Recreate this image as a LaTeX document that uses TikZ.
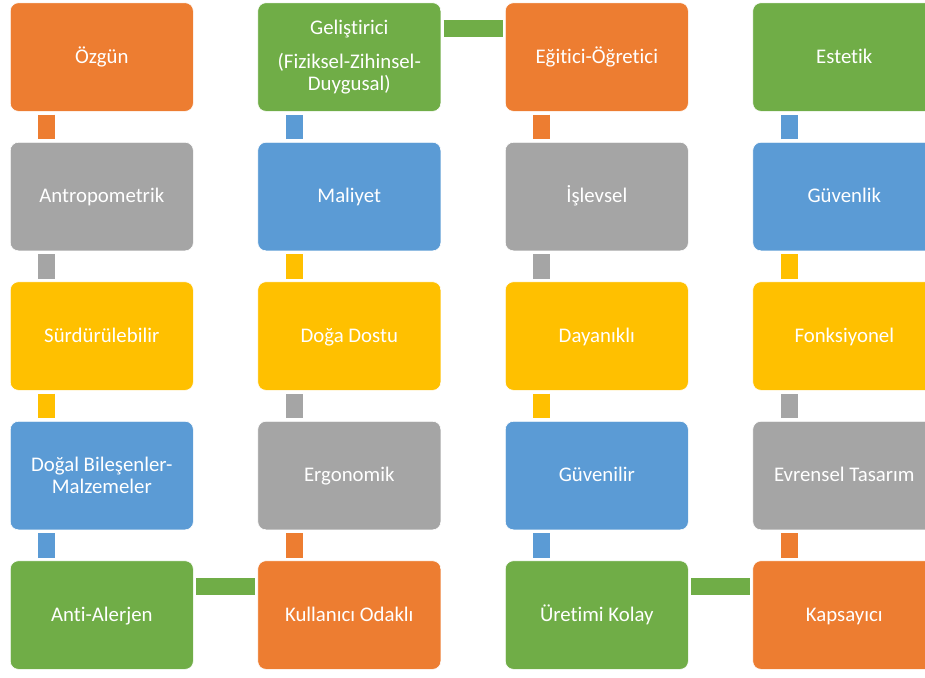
\documentclass[tikz,border=0pt]{standalone}
\usepackage{fontspec}
\setmainfont[RawFeature={-liga;-clig}]{Carlito}
\definecolor{cOrange}{HTML}{ED7D31}
\definecolor{cGray}{HTML}{A5A5A5}
\definecolor{cYellow}{HTML}{FFC000}
\definecolor{cBlue}{HTML}{5B9BD5}
\definecolor{cGreen}{HTML}{70AD47}
\begin{document}
\begin{tikzpicture}[x=1pt,y=-1pt,
  box/.style={rectangle, rounded corners=8pt, anchor=north west,
    minimum width=183pt, minimum height=108.5pt, inner sep=0pt,
    draw=white, line width=0.6pt, fill=#1, text=white, align=center,
    font=\fontsize{20.8}{22}\selectfont},
  one/.style={text height=15pt, text depth=3pt},
  bar/.style={draw=#1, line width=17pt, line cap=butt}]
\useasboundingbox (0,0) rectangle (925,677);
% column 1
\node[box=cOrange,one] (a1) at (10,2.5) {Özgün};
\node[box=cGray,one]   (a2) at (10,142) {Antropometrik};
\node[box=cYellow,one] (a3) at (10,281.5) {Sürdürülebilir};
\node[box=cBlue]       (a4) at (10,421) {Doğal Bileşenler-\\Malzemeler};
\node[box=cGreen,one]  (a5) at (10,560.5) {Anti-Alerjen};
% column 2
\node[box=cGreen]      (b1) at (257.5,2.5) {Geliştirici\\[12pt](Fiziksel-Zihinsel-\\Duygusal)};
\node[box=cBlue,one]   (b2) at (257.5,142) {Maliyet};
\node[box=cYellow,one] (b3) at (257.5,281.5) {Doğa Dostu};
\node[box=cGray,one]   (b4) at (257.5,421) {Ergonomik};
\node[box=cOrange,one] (b5) at (257.5,560.5) {Kullanıcı Odaklı};
% column 3
\node[box=cOrange,one] (c1) at (505,2.5) {Eğitici-Öğretici};
\node[box=cGray,one]   (c2) at (505,142) {İşlevsel};
\node[box=cYellow,one] (c3) at (505,281.5) {Dayanıklı};
\node[box=cBlue,one]   (c4) at (505,421) {Güvenilir};
\node[box=cGreen,one]  (c5) at (505,560.5) {Üretimi Kolay};
% column 4
\node[box=cGreen,one]  (d1) at (752.5,2.5) {Estetik};
\node[box=cBlue,one]   (d2) at (752.5,142) {Güvenlik};
\node[box=cYellow,one] (d3) at (752.5,281.5) {Fonksiyonel};
\node[box=cGray,one]   (d4) at (752.5,421) {Evrensel Tasarım};
\node[box=cOrange,one] (d5) at (752.5,560.5) {Kapsayıcı};
% downward connectors
\foreach \u/\l/\c in {a1/a2/cOrange, a2/a3/cGray, a3/a4/cYellow, a4/a5/cBlue,
                      c1/c2/cOrange, c2/c3/cGray, c3/c4/cYellow, c4/c5/cBlue}
  \draw[bar=\c] ([xshift=36.5pt,yshift=-3pt]\u.south west) -- ([xshift=36.5pt,yshift=3pt]\l.north west);
% upward connectors
\foreach \l/\u/\c in {b5/b4/cOrange, b4/b3/cGray, b3/b2/cYellow, b2/b1/cBlue,
                      d5/d4/cOrange, d4/d3/cGray, d3/d2/cYellow, d2/d1/cBlue}
  \draw[bar=\c] ([xshift=36.5pt,yshift=3pt]\l.north west) -- ([xshift=36.5pt,yshift=-3pt]\u.south west);
% horizontal connectors
\foreach \p/\q in {a5/b5, b1/c1, c5/d5}
  \draw[bar=cGreen] ([xshift=2.5pt,yshift=-26pt]\p.north east) -- ([xshift=-2.5pt,yshift=-26pt]\q.north west);
\end{tikzpicture}
\end{document}
